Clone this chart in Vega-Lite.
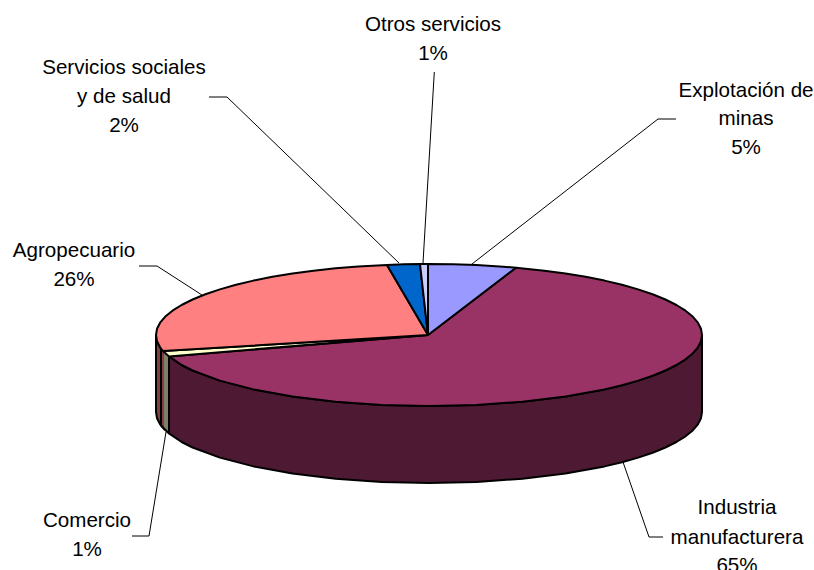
{"$schema":"https://vega.github.io/schema/vega-lite/v6.json","width":814,"height":570,"padding":0,"autosize":{"type":"none"},"background":"white","config":{"view":{"stroke":null}},
"datasets":{"poly":[
{"p":"Agropecuario lado","i":0,"x":-273,"y":0},{"p":"Agropecuario lado","i":1,"x":-272,"y":-6.2},{"p":"Agropecuario lado","i":2,"x":-268.9,"y":-12.3},{"p":"Agropecuario lado","i":3,"x":-264,"y":-18},{"p":"Agropecuario lado","i":4,"x":-264,"y":-95},{"p":"Agropecuario lado","i":5,"x":-268.9,"y":-89.3},{"p":"Agropecuario lado","i":6,"x":-272,"y":-83.2},{"p":"Agropecuario lado","i":7,"x":-273,"y":-77},{"p":"Agropecuario lado","i":8,"x":-273,"y":0},
{"p":"Agropecuario corte","i":0,"x":-268,"y":-13.5},{"p":"Agropecuario corte","i":1,"x":-268,"y":-90.5},
{"p":"Comercio lado","i":0,"x":-264,"y":-18},{"p":"Comercio lado","i":1,"x":-260,"y":-21.4},{"p":"Comercio lado","i":2,"x":-260,"y":-98.4},{"p":"Comercio lado","i":3,"x":-264,"y":-95},{"p":"Comercio lado","i":4,"x":-264,"y":-18},
{"p":"Comercio base","i":0,"x":-268,"y":-90.5},{"p":"Comercio base","i":1,"x":-260,"y":-98.4},
{"p":"Industria lado","i":0,"x":273,"y":0},{"p":"Industria lado","i":1,"x":272,"y":-6.2},{"p":"Industria lado","i":2,"x":268.9,"y":-12.3},{"p":"Industria lado","i":3,"x":263.7,"y":-18.4},{"p":"Industria lado","i":4,"x":256.5,"y":-24.3},{"p":"Industria lado","i":5,"x":247.4,"y":-30},{"p":"Industria lado","i":6,"x":236.4,"y":-35.5},{"p":"Industria lado","i":7,"x":223.6,"y":-40.7},{"p":"Industria lado","i":8,"x":209.1,"y":-45.6},{"p":"Industria lado","i":9,"x":193,"y":-50.2},{"p":"Industria lado","i":10,"x":175.5,"y":-54.4},{"p":"Industria lado","i":11,"x":136.5,"y":-61.5},{"p":"Industria lado","i":12,"x":93.4,"y":-66.7},{"p":"Industria lado","i":13,"x":47.4,"y":-69.9},{"p":"Industria lado","i":14,"x":0,"y":-71},{"p":"Industria lado","i":15,"x":-47.4,"y":-69.9},{"p":"Industria lado","i":16,"x":-93.4,"y":-66.7},{"p":"Industria lado","i":17,"x":-136.5,"y":-61.5},{"p":"Industria lado","i":18,"x":-175.5,"y":-54.4},{"p":"Industria lado","i":19,"x":-209.1,"y":-45.6},{"p":"Industria lado","i":20,"x":-236.4,"y":-35.5},{"p":"Industria lado","i":21,"x":-247.4,"y":-30},{"p":"Industria lado","i":22,"x":-260,"y":-21.4},{"p":"Industria lado","i":23,"x":-260,"y":-98.4},{"p":"Industria lado","i":24,"x":-247.4,"y":-107},{"p":"Industria lado","i":25,"x":-236.4,"y":-112.5},{"p":"Industria lado","i":26,"x":-209.1,"y":-122.6},{"p":"Industria lado","i":27,"x":-175.5,"y":-131.4},{"p":"Industria lado","i":28,"x":-136.5,"y":-138.5},{"p":"Industria lado","i":29,"x":-93.4,"y":-143.7},{"p":"Industria lado","i":30,"x":-47.4,"y":-146.9},{"p":"Industria lado","i":31,"x":0,"y":-148},{"p":"Industria lado","i":32,"x":47.4,"y":-146.9},{"p":"Industria lado","i":33,"x":93.4,"y":-143.7},{"p":"Industria lado","i":34,"x":136.5,"y":-138.5},{"p":"Industria lado","i":35,"x":175.5,"y":-131.4},{"p":"Industria lado","i":36,"x":193,"y":-127.2},{"p":"Industria lado","i":37,"x":209.1,"y":-122.6},{"p":"Industria lado","i":38,"x":223.6,"y":-117.7},{"p":"Industria lado","i":39,"x":236.4,"y":-112.5},{"p":"Industria lado","i":40,"x":247.4,"y":-107},{"p":"Industria lado","i":41,"x":256.5,"y":-101.3},{"p":"Industria lado","i":42,"x":263.7,"y":-95.4},{"p":"Industria lado","i":43,"x":268.9,"y":-89.3},{"p":"Industria lado","i":44,"x":272,"y":-83.2},{"p":"Industria lado","i":45,"x":273,"y":-77},{"p":"Industria lado","i":46,"x":273,"y":0},
{"p":"Industria","i":0,"x":-1,"y":0},{"p":"Industria","i":1,"x":87,"y":67.3},{"p":"Industria","i":2,"x":115.4,"y":64.3},{"p":"Industria","i":3,"x":136.5,"y":61.5},{"p":"Industria","i":4,"x":156.6,"y":58.2},{"p":"Industria","i":5,"x":175.5,"y":54.4},{"p":"Industria","i":6,"x":193,"y":50.2},{"p":"Industria","i":7,"x":209.1,"y":45.6},{"p":"Industria","i":8,"x":223.6,"y":40.7},{"p":"Industria","i":9,"x":236.4,"y":35.5},{"p":"Industria","i":10,"x":247.4,"y":30},{"p":"Industria","i":11,"x":256.5,"y":24.3},{"p":"Industria","i":12,"x":263.7,"y":18.4},{"p":"Industria","i":13,"x":268.9,"y":12.3},{"p":"Industria","i":14,"x":272,"y":6.2},{"p":"Industria","i":15,"x":273,"y":0},{"p":"Industria","i":16,"x":272,"y":-6.2},{"p":"Industria","i":17,"x":268.9,"y":-12.3},{"p":"Industria","i":18,"x":263.7,"y":-18.4},{"p":"Industria","i":19,"x":256.5,"y":-24.3},{"p":"Industria","i":20,"x":247.4,"y":-30},{"p":"Industria","i":21,"x":236.4,"y":-35.5},{"p":"Industria","i":22,"x":223.6,"y":-40.7},{"p":"Industria","i":23,"x":209.1,"y":-45.6},{"p":"Industria","i":24,"x":193,"y":-50.2},{"p":"Industria","i":25,"x":175.5,"y":-54.4},{"p":"Industria","i":26,"x":136.5,"y":-61.5},{"p":"Industria","i":27,"x":93.4,"y":-66.7},{"p":"Industria","i":28,"x":47.4,"y":-69.9},{"p":"Industria","i":29,"x":0,"y":-71},{"p":"Industria","i":30,"x":-47.4,"y":-69.9},{"p":"Industria","i":31,"x":-93.4,"y":-66.7},{"p":"Industria","i":32,"x":-136.5,"y":-61.5},{"p":"Industria","i":33,"x":-175.5,"y":-54.4},{"p":"Industria","i":34,"x":-209.1,"y":-45.6},{"p":"Industria","i":35,"x":-236.4,"y":-35.5},{"p":"Industria","i":36,"x":-247.4,"y":-30},{"p":"Industria","i":37,"x":-260,"y":-21.4},{"p":"Industria","i":38,"x":-1,"y":0},
{"p":"Minas","i":0,"x":-1,"y":0},{"p":"Minas","i":1,"x":-1,"y":71},{"p":"Minas","i":2,"x":23.8,"y":70.7},{"p":"Minas","i":3,"x":47.4,"y":69.9},{"p":"Minas","i":4,"x":70.7,"y":68.6},{"p":"Minas","i":5,"x":87,"y":67.3},{"p":"Minas","i":6,"x":-1,"y":0},
{"p":"Comercio","i":0,"x":-1,"y":0},{"p":"Comercio","i":1,"x":-260,"y":-21.4},{"p":"Comercio","i":2,"x":-266,"y":-16},{"p":"Comercio","i":3,"x":-1,"y":0},
{"p":"Agropecuario","i":0,"x":-1,"y":0},{"p":"Agropecuario","i":1,"x":-266,"y":-16},{"p":"Agropecuario","i":2,"x":-268.9,"y":-12.3},{"p":"Agropecuario","i":3,"x":-272,"y":-6.2},{"p":"Agropecuario","i":4,"x":-273,"y":0},{"p":"Agropecuario","i":5,"x":-272,"y":6.2},{"p":"Agropecuario","i":6,"x":-268.9,"y":12.3},{"p":"Agropecuario","i":7,"x":-263.7,"y":18.4},{"p":"Agropecuario","i":8,"x":-256.5,"y":24.3},{"p":"Agropecuario","i":9,"x":-247.4,"y":30},{"p":"Agropecuario","i":10,"x":-236.4,"y":35.5},{"p":"Agropecuario","i":11,"x":-223.6,"y":40.7},{"p":"Agropecuario","i":12,"x":-209.1,"y":45.6},{"p":"Agropecuario","i":13,"x":-193,"y":50.2},{"p":"Agropecuario","i":14,"x":-175.5,"y":54.4},{"p":"Agropecuario","i":15,"x":-156.6,"y":58.2},{"p":"Agropecuario","i":16,"x":-136.5,"y":61.5},{"p":"Agropecuario","i":17,"x":-115.4,"y":64.3},{"p":"Agropecuario","i":18,"x":-93.4,"y":66.7},{"p":"Agropecuario","i":19,"x":-70.7,"y":68.6},{"p":"Agropecuario","i":20,"x":-42,"y":70.1},{"p":"Agropecuario","i":21,"x":-1,"y":0},
{"p":"Servicios sociales","i":0,"x":-1,"y":0},{"p":"Servicios sociales","i":1,"x":-42,"y":70.1},{"p":"Servicios sociales","i":2,"x":-25,"y":70.7},{"p":"Servicios sociales","i":3,"x":-9,"y":71},{"p":"Servicios sociales","i":4,"x":-1,"y":0},
{"p":"Otros","i":0,"x":-1,"y":0},{"p":"Otros","i":1,"x":-9,"y":71},{"p":"Otros","i":2,"x":-1,"y":71},{"p":"Otros","i":3,"x":-1,"y":0}
],
"leaders":[
{"s":"Otros","i":0,"x":5.3,"y":263},{"s":"Otros","i":1,"x":-6,"y":72},
{"s":"Servicios","i":0,"x":-220,"y":238},{"s":"Servicios","i":1,"x":-202,"y":238},{"s":"Servicios","i":2,"x":-30,"y":72},
{"s":"Agropecuario","i":0,"x":-290,"y":69},{"s":"Agropecuario","i":1,"x":-272,"y":69},{"s":"Agropecuario","i":2,"x":-227,"y":40},
{"s":"Comercio","i":0,"x":-297,"y":-201},{"s":"Comercio","i":1,"x":-280,"y":-201},{"s":"Comercio","i":2,"x":-263,"y":-97},
{"s":"Industria","i":0,"x":234,"y":-202},{"s":"Industria","i":1,"x":220,"y":-202},{"s":"Industria","i":2,"x":194,"y":-127},
{"s":"Minas","i":0,"x":247,"y":216},{"s":"Minas","i":1,"x":229,"y":216},{"s":"Minas","i":2,"x":43,"y":71}
],
"labels":[
{"t":"Otros servicios","x":4,"y":310},{"t":"1%","x":4,"y":281},
{"t":"Servicios sociales","x":-305,"y":267},{"t":"y de salud","x":-305,"y":238},{"t":"2%","x":-305,"y":209},
{"t":"Explotación de","x":317,"y":244},{"t":"minas","x":317,"y":216},{"t":"5%","x":317,"y":187},
{"t":"Agropecuario","x":-355,"y":84},{"t":"26%","x":-355,"y":55},
{"t":"Comercio","x":-342,"y":-186},{"t":"1%","x":-342,"y":-215},
{"t":"Industria","x":308,"y":-173},{"t":"manufacturera","x":308,"y":-203},{"t":"65%","x":308,"y":-231}
]},
"encoding":{"x":{"field":"x","type":"quantitative","axis":null,"scale":{"domain":[-429,385],"nice":false,"zero":false}},"y":{"field":"y","type":"quantitative","axis":null,"scale":{"domain":[-235,335],"nice":false,"zero":false}}},
"layer":[
{"data":{"name":"poly"},"mark":{"type":"line","strokeWidth":2,"strokeJoin":"round"},
"encoding":{"detail":{"field":"p"},"order":{"field":"i","type":"quantitative"},
"stroke":{"field":"p","type":"nominal","legend":null,"sort":null,"scale":{"domain":["Agropecuario lado","Agropecuario corte","Comercio lado","Comercio base","Industria lado","Industria","Minas","Comercio","Agropecuario","Servicios sociales","Otros"],"range":["#000000","#000000","#808066","#000000","#000000","#000000","#000000","#000000","#000000","#000000","#000000"]}},
"fill":{"field":"p","type":"nominal","legend":null,"sort":null,"scale":{"domain":["Agropecuario lado","Agropecuario corte","Comercio lado","Comercio base","Industria lado","Industria","Minas","Comercio","Agropecuario","Servicios sociales","Otros"],"range":["#804040","#804040","#808066","#808066","#4D1933","#993366","#9999FF","#FFFFCC","#FF8080","#0066CC","#CCCCFF"]}}}},
{"data":{"name":"leaders"},"mark":{"type":"line","stroke":"black","strokeWidth":1},"encoding":{"detail":{"field":"s"},"order":{"field":"i","type":"quantitative"}}},
{"data":{"name":"labels"},"mark":{"type":"text","font":"Liberation Sans","fontSize":20.6,"align":"center","baseline":"middle","color":"black"},"encoding":{"text":{"field":"t"}}}
]}
